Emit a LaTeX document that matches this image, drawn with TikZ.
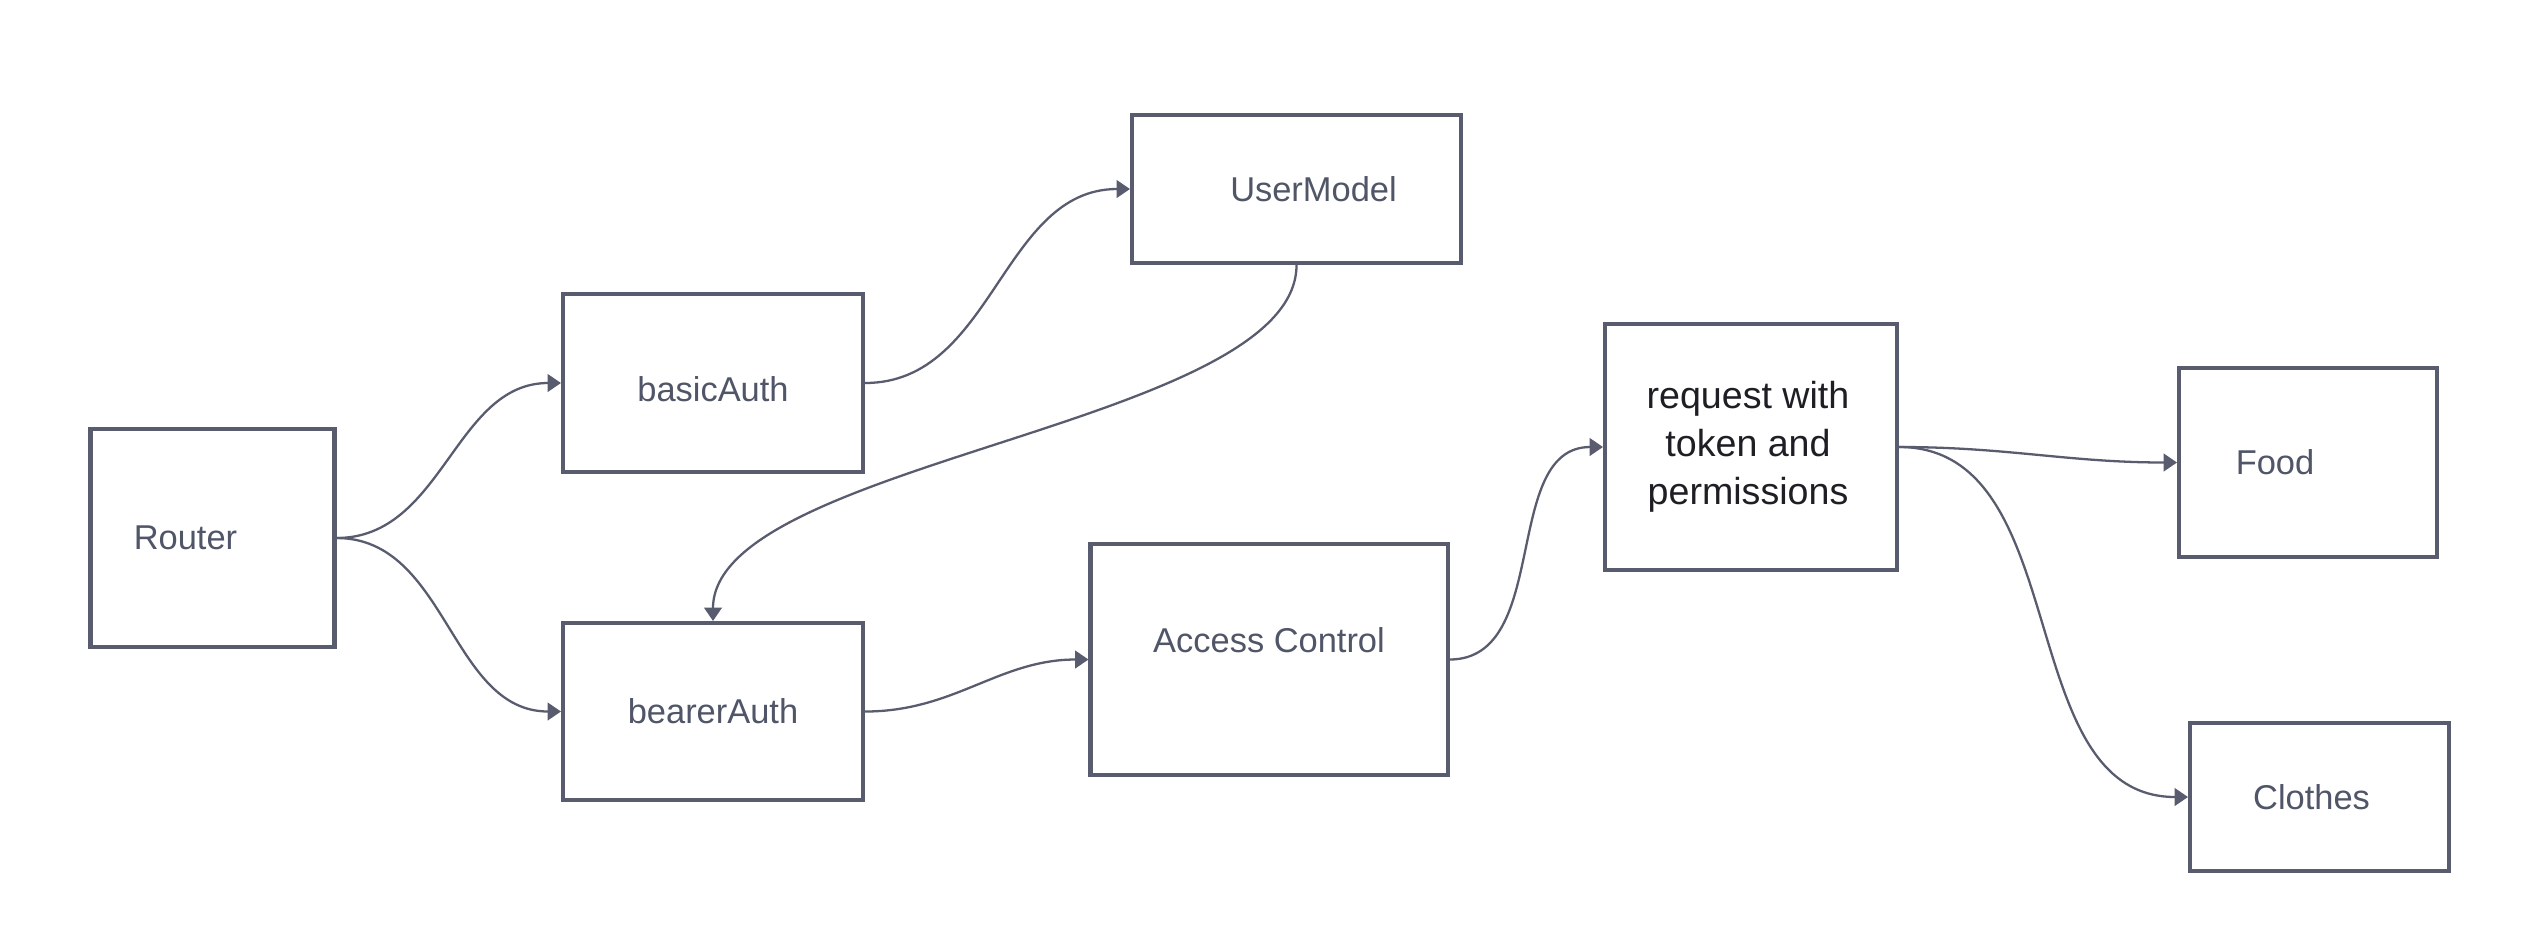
\documentclass[tikz,border=0pt]{standalone}
\usepackage{fontspec}
\setmainfont{Liberation Sans}
\usepackage{tikz}
\usetikzlibrary{arrows.meta,positioning}
\definecolor{boxgray}{RGB}{88,92,110}
\definecolor{textgray}{RGB}{80,85,104}
\definecolor{textdark}{RGB}{30,31,36}
\tikzstyle{box} = [draw=boxgray,line width=1.15pt,inner sep=0pt]
\tikzstyle{boxtext} = [text=textgray,inner sep=0pt,font=\fontsize{9.8}{12}\selectfont]
\tikzstyle{arrow} = [draw=boxgray,line width=0.65pt,-{Triangle[length=3.8pt,width=5pt]}]

\begin{document}
\begin{tikzpicture}
          % basics
          \fill[white] (0,0) rectangle (25.24,9.34);
          \useasboundingbox (0,0) rectangle (25.24,9.34);

          % boxes
          \node[box,minimum width=2.44cm,minimum height=2.18cm] (router) at (2.125,3.96) {};
          \node[box,minimum width=3.00cm,minimum height=1.78cm] (basic) at (7.13,5.51) {};
          \node[box,minimum width=3.00cm,minimum height=1.77cm] (bearer) at (7.13,2.225) {};
          \node[box,minimum width=3.29cm,minimum height=1.48cm] (usermodel) at (12.965,7.45) {};
          \node[box,minimum width=3.57cm,minimum height=2.31cm] (access) at (12.69,2.745) {};
          \node[box,minimum width=2.92cm,minimum height=2.46cm] (request) at (17.51,4.87) {};
          \node[box,minimum width=2.58cm,minimum height=1.89cm] (food) at (23.08,4.715) {};
          \node[box,minimum width=2.59cm,minimum height=1.48cm] (clothes) at (23.195,1.37) {};

          % texts
          \node[boxtext] (routertext) at ([xshift=-0.27cm]router.center) {Router};
          \node[boxtext] (basictext) at ([yshift=-0.06cm]basic.center) {basicAuth};
          \node[boxtext] (bearertext) at (bearer.center) {bearerAuth};
          \node[boxtext] (usermodeltext) at ([xshift=0.17cm]usermodel.center) {UserModel};
          \node[boxtext] (accesstext) at ([yshift=0.195cm]access.center) {Access Control};
          \node[boxtext,text=textdark,align=center,font=\fontsize{10.7}{13.6}\selectfont] (requesttext) at ([xshift=-0.03cm]request.center) {request with\\token and\\permissions};
          \node[boxtext] (foodtext) at ([xshift=-0.33cm]food.center) {Food};
          \node[boxtext] (clothestext) at ([xshift=-0.08cm]clothes.center) {Clothes};

          % connectors
          \draw[arrow] (router.east) to[out=0,in=180] (basic.west);
          \draw[arrow] (router.east) to[out=0,in=180] (bearer.west);
          \draw[arrow] (basic.east) to[out=0,in=180] (usermodel.west);
          \draw[arrow] (usermodel.south) to[out=-90,in=90,looseness=0.6] (bearer.north);
          \draw[arrow] (bearer.east) to[out=0,in=180] (access.west);
          \draw[arrow] (access.east) to[out=0,in=180] (request.west);
          \draw[arrow] (request.east) to[out=0,in=180] (food.west);
          \draw[arrow] (request.east) to[out=0,in=180] (clothes.west);
      \end{tikzpicture}
\end{document}
